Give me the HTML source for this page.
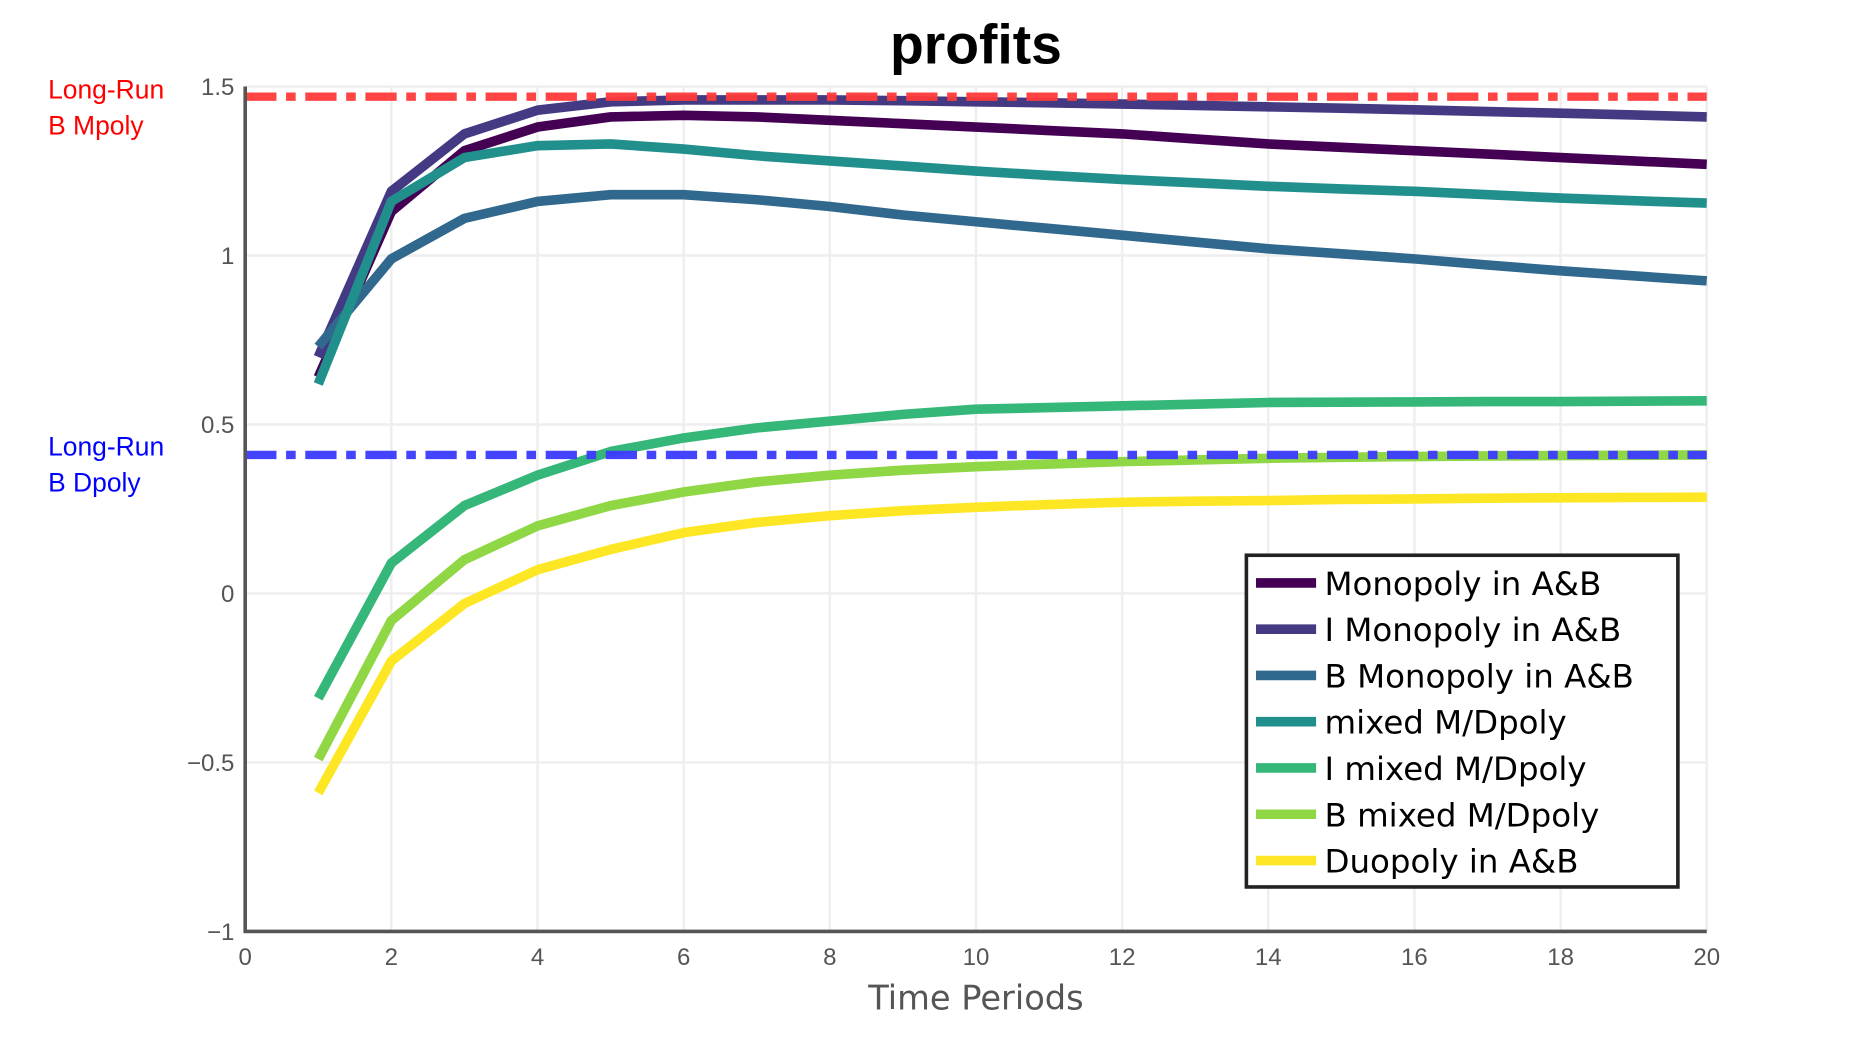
<!DOCTYPE html>
<html><head><meta charset="utf-8"><style>
html,body{margin:0;padding:0;background:#fff;}
svg{display:block;font-family:"Liberation Sans","DejaVu Sans",sans-serif;}
</style></head><body>
<svg id="chart" width="1875" height="1042" viewBox="0 0 1560 867" preserveAspectRatio="none" xmlns="http://www.w3.org/2000/svg">
<text x="812" y="53" text-anchor="middle" font-size="46" font-weight="bold" fill="#000">profits</text>
<g id="grid"></g>
<g id="ticks"></g>
<g id="series"></g>
<g id="axes"></g>
<text x="812" y="840" text-anchor="middle" font-size="28" fill="#555" font-family="DejaVu Sans, sans-serif">Time Periods</text>
<text x="40" y="82" font-size="22" fill="#f00">Long-Run</text>
<text x="40" y="112" font-size="22" fill="#f00">B Mpoly</text>
<text x="40" y="379" font-size="22" fill="#00f">Long-Run</text>
<text x="40" y="409" font-size="22" fill="#00f">B Dpoly</text>
<g id="legend"></g>
</svg>
<script>
const periods=[1,2,3,4,5,6,7,8,9,10,11,12,13,14,15,16,17,18,19,20];
const seriesNames=["Monopoly in A&B","I Monopoly in A&B","B Monopoly in A&B","mixed M/Dpoly","I mixed M/Dpoly","B mixed M/Dpoly","Duopoly in A&B"];
const seriesColors=["#440154","#443983","#31688e","#21908d","#35b779","#8fd744","#fde725"];
const monopoly=[0.64,1.13,1.31,1.38,1.41,1.415,1.41,1.40,1.39,1.38,1.37,1.36,1.345,1.33,1.32,1.31,1.30,1.29,1.28,1.27];
const iMonopoly=[0.70,1.19,1.36,1.43,1.455,1.46,1.46,1.46,1.458,1.455,1.452,1.448,1.444,1.44,1.436,1.431,1.426,1.421,1.416,1.41];
const bMonopoly=[0.73,0.99,1.11,1.16,1.18,1.18,1.165,1.145,1.12,1.10,1.08,1.06,1.04,1.02,1.005,0.99,0.972,0.955,0.94,0.925];
const mixed=[0.62,1.16,1.29,1.325,1.33,1.315,1.295,1.28,1.265,1.25,1.237,1.225,1.215,1.205,1.197,1.19,1.18,1.17,1.162,1.155];
const iMixed=[-0.31,0.09,0.26,0.35,0.42,0.46,0.49,0.51,0.53,0.545,0.55,0.555,0.56,0.565,0.566,0.567,0.568,0.568,0.569,0.57];
const bMixed=[-0.49,-0.08,0.10,0.20,0.26,0.30,0.33,0.35,0.365,0.375,0.383,0.39,0.395,0.40,0.403,0.405,0.407,0.408,0.409,0.41];
const duopoly=[-0.59,-0.20,-0.03,0.07,0.13,0.18,0.21,0.23,0.245,0.255,0.263,0.27,0.273,0.275,0.278,0.28,0.282,0.283,0.284,0.285];
const allSeries=[monopoly,iMonopoly,bMonopoly,mixed,iMixed,bMixed,duopoly];
const longRunMpoly=1.47;
const longRunDpoly=0.41;
const xTicks=[0,2,4,6,8,10,12,14,16,18,20];
const yTicks=[-1,-0.5,0,0.5,1,1.5];
const yTickLabels=["\u22121","\u22120.5","0","0.5","1","1.5"];

const NS="http://www.w3.org/2000/svg";
const X0=204,X1=1420,Y0=775,Y1=72;
function sx(v){return X0+(v-0)/(20-0)*(X1-X0);}
function sy(v){return Y0-(v-(-1))/(1.5-(-1))*(Y0-Y1);}
function mk(tag,attrs,parent){const e=document.createElementNS(NS,tag);for(const k in attrs)e.setAttribute(k,attrs[k]);parent.appendChild(e);return e;}
const grid=document.getElementById('grid'),ticks=document.getElementById('ticks'),ser=document.getElementById('series'),axes=document.getElementById('axes'),leg=document.getElementById('legend');
xTicks.forEach(t=>{
  const l=mk('line',{x1:sx(t),x2:sx(t),y1:Y1,y2:Y0,stroke:'#eee','stroke-width':2},grid);
  
  
  const tx=mk('text',{x:sx(t),y:803,'text-anchor':'middle','font-size':20,fill:'#555'},ticks);
  tx.textContent=t;
  
  
});
yTicks.forEach((t,i)=>{
  const l=mk('line',{x1:X0,x2:X1,y1:sy(t),y2:sy(t),stroke:'#eee','stroke-width':2},grid);
  
  
  const tx=mk('text',{x:195,y:sy(t)+7,'text-anchor':'end','font-size':20,fill:'#555'},ticks);
  tx.textContent=yTickLabels[i];
  
  
});
allSeries.forEach((vals,i)=>{
  const d=vals.map((v,j)=>(j?'L':'M')+sx(periods[j]).toFixed(1)+','+sy(v).toFixed(1)).join('');
  const p=mk('path',{d:d,fill:'none',stroke:seriesColors[i],'stroke-width':8,'stroke-linejoin':'round'},ser);
  
  
});
const r=mk('line',{x1:X0,x2:X1,y1:sy(longRunMpoly),y2:sy(longRunMpoly),stroke:'#ff3b3b','stroke-width':7,'stroke-dasharray':'26 8 8 8',opacity:0.95},ser);


const b=mk('line',{x1:X0,x2:X1,y1:sy(longRunDpoly),y2:sy(longRunDpoly),stroke:'#3b3bff','stroke-width':7,'stroke-dasharray':'26 8 8 8',opacity:0.95},ser);


const ax=mk('path',{d:`M${X0},${Y1}L${X0},${Y0}L${X1},${Y0}`,fill:'none',stroke:'#555','stroke-width':3},axes);


const box=mk('rect',{x:1037,y:462,width:359,height:276,fill:'#fff',stroke:'#222','stroke-width':3},leg);


seriesNames.forEach((n,i)=>{
  const y=485+i*38.5;
  const l=mk('line',{x1:1045,x2:1095,y1:y,y2:y,stroke:seriesColors[i],'stroke-width':8},leg);
  
  
  const t=mk('text',{x:1102,y:y+10,'font-size':27,fill:'#000','font-family':'DejaVu Sans, sans-serif'},leg);
  t.textContent=n;
  
  
});
</script>
</body></html>
